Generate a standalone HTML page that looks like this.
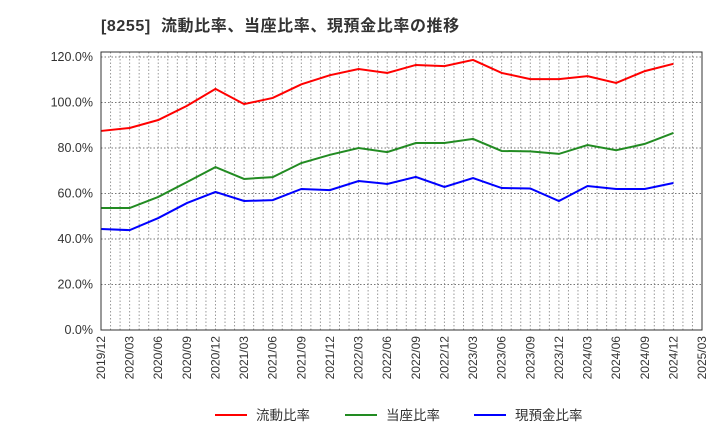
<!DOCTYPE html>
<html><head><meta charset="utf-8"><style>
body{margin:0;background:#fff;}
svg text{font-family:"Liberation Sans","Noto Sans CJK JP",sans-serif;}
</style></head><body>
<svg id="chart" width="720" height="440" xmlns="http://www.w3.org/2000/svg">
<text x="101" y="31" font-size="16" font-weight="bold" fill="#333" letter-spacing="0.6" xml:space="preserve">[8255]  流動比率、当座比率、現預金比率の推移</text>
<g id="grid"></g>
<g id="axes"></g>
<g id="series"></g>
<rect x="101" y="52" width="601" height="278" fill="none" stroke="#333" stroke-width="1"/>
<g>
<g><line x1="215" y1="415" x2="247" y2="415" stroke="#ff0000" stroke-width="2"/><text x="256" y="420" font-size="13.5" fill="#333">流動比率</text></g>
<g><line x1="345" y1="415" x2="377" y2="415" stroke="#228b22" stroke-width="2"/><text x="386" y="420" font-size="13.5" fill="#333">当座比率</text></g>
<g><line x1="474" y1="415" x2="506" y2="415" stroke="#0000ff" stroke-width="2"/><text x="515" y="420" font-size="13.5" fill="#333">現預金比率</text></g>
</g>
</svg>
<script>
const categories=["2019/12","2020/03","2020/06","2020/09","2020/12","2021/03","2021/06","2021/09","2021/12","2022/03","2022/06","2022/09","2022/12","2023/03","2023/06","2023/09","2023/12","2024/03","2024/06","2024/09","2024/12","2025/03"];
const currentRatio=[87.5,88.8,92.3,98.5,106,99.3,102,108,112,114.7,113,116.5,116,118.7,113,110.3,110.3,111.6,108.6,113.8,117];
const quickRatio=[53.6,53.6,58.5,65,71.6,66.4,67.2,73.4,77,80,78.2,82.2,82.2,84,78.7,78.5,77.4,81.3,79,81.8,86.6];
const cashRatio=[44.4,43.9,49.2,55.8,60.7,56.7,57.1,62,61.5,65.5,64.2,67.3,62.9,66.8,62.4,62.2,56.7,63.3,62,62,64.6];
const yTicks=[0,20,40,60,80,100,120];
const NS="http://www.w3.org/2000/svg";
const x0=101,x1=702,yBase=330,yTop=57;
const xs=i=>x0+i*(x1-x0)/(categories.length-1);
const ys=v=>yBase-v*(yBase-yTop)/120;
function mk(t,a,p){const e=document.createElementNS(NS,t);for(const k in a)e.setAttribute(k,a[k]);p.appendChild(e);return e;}
const grid=document.getElementById('grid'),axes=document.getElementById('axes'),ser=document.getElementById('series');
for(let m=1;m<(categories.length-1)*3;m++){const x=x0+m*(x1-x0)/((categories.length-1)*3);
const l=mk('line',{x1:x,x2:x,y1:52,y2:330,stroke:'#999','stroke-dasharray':'1.5,2','stroke-width':1},grid);
}
yTicks.forEach(v=>{const y=ys(v);
if(v>0){const l=mk('line',{x1:x0,x2:x1,y1:y,y2:y,stroke:'#777','stroke-dasharray':'1.5,2','stroke-width':1},grid);
}
const t=mk('text',{x:93,y:y+4,'font-size':12.5,fill:'#333','text-anchor':'end'},axes);t.textContent=v.toFixed(1)+'%';
});
categories.forEach((c,i)=>{const x=xs(i);
const t=mk('text',{x:0,y:0,'font-size':12,fill:'#333','text-anchor':'end',transform:`translate(${x+4},336) rotate(-90)`},axes);t.textContent=c;
});
[[currentRatio,'#ff0000','current-ratio-line'],[quickRatio,'#228b22','quick-ratio-line'],[cashRatio,'#0000ff','cash-ratio-line']].forEach(([d,c,n])=>{
const p=mk('polyline',{points:d.map((v,i)=>xs(i)+','+ys(v)).join(' '),fill:'none',stroke:c,'stroke-width':2},ser);
});
</script>
</body></html>
